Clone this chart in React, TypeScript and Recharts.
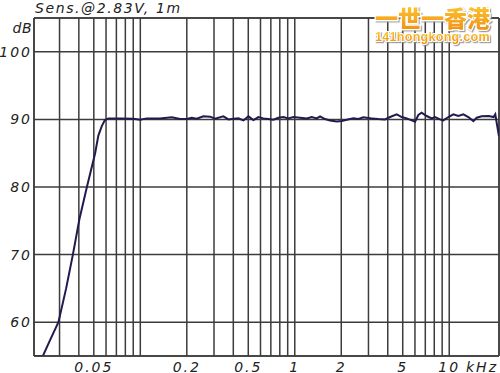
import { LineChart, Line, XAxis, YAxis, CartesianGrid, ReferenceLine } from "recharts";

// frequency (kHz) and sensitivity (dB)
const freqKHz = [
  0.0205, 0.0234, 0.026, 0.0295, 0.0331, 0.0366, 0.0403, 0.0451, 0.051, 0.0535,
  0.0563, 0.059, 0.0622, 0.074, 0.0902, 0.0998, 0.11, 0.134, 0.16, 0.181,
  0.2, 0.215, 0.232, 0.256, 0.283, 0.305, 0.345, 0.372, 0.401, 0.432,
  0.465, 0.501, 0.54, 0.581, 0.626, 0.675, 0.727, 0.783, 0.844, 0.909,
  0.979, 1.082, 1.196, 1.288, 1.388, 1.458, 1.57, 1.692, 1.87, 2.015,
  2.171, 2.394, 2.58, 2.78, 3.15, 3.475, 3.84, 4.14, 4.57, 4.93,
  5.31, 5.72, 6.01, 6.31, 6.63, 7.14, 7.7, 8.09, 8.72, 9.16,
  9.87, 10.63, 11.45, 12.34, 13.3, 14.33, 15.06, 16.21, 17.98, 19.37,
  19.87, 20.38, 21,
];
const splDb = [
  55, 55, 57.3, 60, 65, 70, 75.2, 80, 85, 87.6,
  89, 89.9, 90.15, 90.15, 90.1, 89.95, 90.15, 90.15, 90.3, 90.05,
  90.05, 90.25, 90.1, 90.45, 90.4, 90.1, 90.45, 90.0, 90.1, 90.15,
  89.85, 90.45, 89.9, 90.35, 90.15, 90.05, 89.95, 90.25, 90.35, 90.15,
  90.35, 90.25, 90.15, 90.35, 90.15, 90.45, 90.05, 89.85, 89.7, 89.75,
  89.95, 90.15, 90.05, 90.3, 90.15, 90.05, 90.0, 90.35, 90.75, 90.35,
  90.15, 89.85, 89.65, 90.65, 91.0, 90.5, 90.15, 90.35, 90.0, 89.85,
  90.35, 90.75, 90.5, 90.75, 90.35, 89.75, 90.25, 90.45, 90.5, 90.35,
  90.75, 89.25, 87.5,
];

const xGridTicks = [
  0.03, 0.04, 0.05, 0.06, 0.07, 0.08, 0.09,
  0.1, 0.2, 0.3, 0.4, 0.5, 0.6, 0.7, 0.8, 0.9,
  1, 2, 3, 4, 5, 6, 7, 8, 9, 10,
];
const xLabels = [0.05, 0.2, 0.5, 1, 2, 5, 10];
const yTicks = [60, 70, 80, 90, 100, 105];

const X_MIN = 0.0205;
const X_MAX = 21;
const GRID = "#3c3c3c";
const FONT = "'DejaVu Sans', sans-serif";

const data = freqKHz.map((f, i) => ({ f, db: splDb[i] }));

function XTick({ x, y, payload }: any) {
  if (!xLabels.includes(payload.value)) return null;
  return (
    <text x={x} y={y + 15.5} textAnchor="middle" fontFamily={FONT} fontStyle="italic"
      fontSize={14} letterSpacing={2} fill="#222">
      {payload.value}
    </text>
  );
}

function YTick({ x, y, payload }: any) {
  const isTop = payload.value === 105;
  return (
    <text x={x} y={isTop ? y + 15 : y + 5} textAnchor="end" fontFamily={FONT}
      fontStyle="italic" fontSize={14} letterSpacing={isTop ? 0.5 : 2} fill="#222">
      {isTop ? "dB" : payload.value}
    </text>
  );
}

export default function App() {
  return (
    <div style={{ position: "absolute", left: 0, top: 0, width: 500, height: 373, background: "#fff" }}>
      <LineChart width={500} height={373} data={data} margin={{ top: 18, right: 1, left: 0, bottom: 0 }}>
        <CartesianGrid stroke={GRID} strokeWidth={1.5} />
        <XAxis
          dataKey="f"
          type="number"
          scale="log"
          domain={[X_MIN, X_MAX]}
          ticks={xGridTicks}
          interval={0}
          allowDataOverflow
          height={17}
          tickSize={0}
          tickMargin={0}
          tickLine={false}
          axisLine={{ stroke: GRID, strokeWidth: 1.5 }}
          tick={<XTick />}
        />
        <YAxis
          type="number"
          domain={[55, 105]}
          ticks={yTicks}
          interval={0}
          allowDataOverflow
          width={34}
          tickSize={0}
          tickMargin={2}
          tickLine={false}
          axisLine={{ stroke: GRID, strokeWidth: 1.5 }}
          tick={<YTick />}
        />
        <ReferenceLine x={X_MAX} stroke={GRID} strokeWidth={1.5} />
        <ReferenceLine y={105} stroke={GRID} strokeWidth={1.5} />
        <Line
          type="linear"
          dataKey="db"
          stroke="#1f1b4f"
          strokeWidth={2}
          dot={false}
          isAnimationActive={false}
        />
      </LineChart>
      <svg width={500} height={373} style={{ position: "absolute", left: 0, top: 0, pointerEvents: "none" }}>
        <defs>
          <linearGradient id="wm" x1="0" y1="0" x2="0" y2="1">
            <stop offset="0%" stopColor="#ffd23a" />
            <stop offset="100%" stopColor="#f08a10" />
          </linearGradient>
          <filter id="shadow" x="-10%" y="-20%" width="120%" height="150%">
            <feDropShadow dx="1.2" dy="1.2" stdDeviation="0.6" floodColor="#888" floodOpacity="0.8" />
          </filter>
        </defs>
        <text x={35} y={13.3} fontFamily={FONT} fontStyle="italic" fontSize={14} letterSpacing={1.6} fill="#222">
          Sens.@2.83V, 1m
        </text>
        <text x={498} y={371.5} textAnchor="end" fontFamily={FONT} fontStyle="italic" fontSize={14} letterSpacing={2} fill="#222">
          kHz
        </text>
        <text x={375} y={26.5} fontFamily="'Noto Sans CJK SC', sans-serif" fontWeight={900}
          fontSize={23} letterSpacing={0} fill="url(#wm)" stroke="#fff" strokeWidth={2.5}
          paintOrder="stroke" filter="url(#shadow)">
          一世一香港
        </text>
        <text x={375} y={41} fontFamily="'Liberation Sans', sans-serif" fontWeight={700}
          fontSize={12.5} letterSpacing={0.3} fill="url(#wm)" stroke="#fff" strokeWidth={2} paintOrder="stroke"
          filter="url(#shadow)">
          141hongkong.com
        </text>
      </svg>
    </div>
  );
}
